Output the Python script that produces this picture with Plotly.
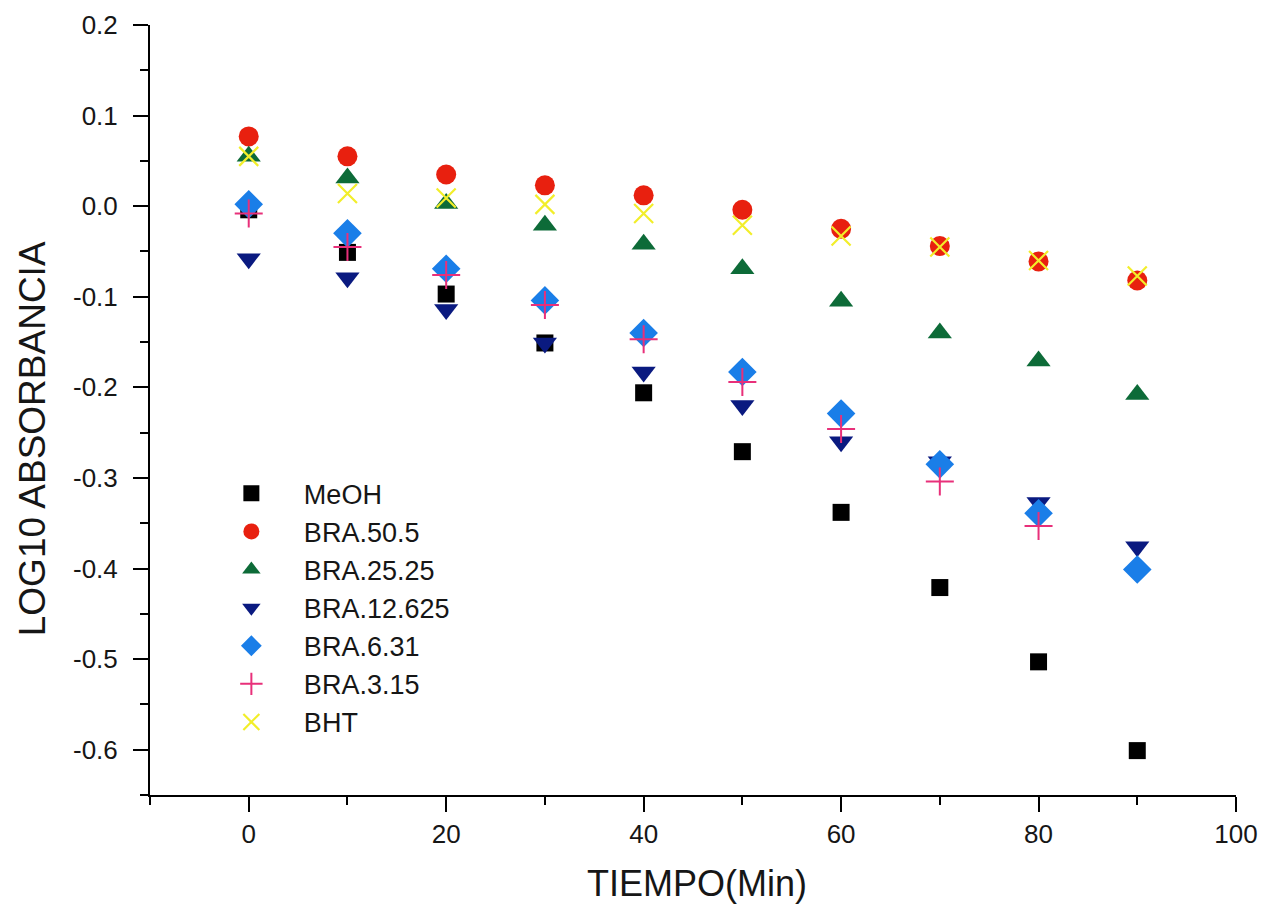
import plotly.graph_objects as go

tiempo = [0, 10, 20, 30, 40, 50, 60, 70, 80, 90]
meoh = [-0.004, -0.051, -0.097, -0.151, -0.206, -0.271, -0.338, -0.421, -0.503, -0.601]
bra_50_5 = [0.077, 0.055, 0.035, 0.023, 0.012, -0.004, -0.025, -0.044, -0.061, -0.082]
bra_25_25 = [0.055, 0.031, 0.003, -0.021, -0.042, -0.069, -0.105, -0.140, -0.171, -0.208]
bra_12_625 = [-0.058, -0.079, -0.114, -0.151, -0.183, -0.220, -0.260, -0.282, -0.327, -0.376]
bra_6_31 = [0.002, -0.030, -0.069, -0.104, -0.140, -0.183, -0.229, -0.285, -0.339, -0.401]
bra_3_15 = [-0.008, -0.045, -0.076, -0.109, -0.147, -0.194, -0.246, -0.304, -0.353, None]
bht = [0.055, 0.014, 0.009, 0.002, -0.008, -0.021, -0.033, -0.045, -0.060, -0.077]

series_names = ["MeOH", "BRA.50.5", "BRA.25.25", "BRA.12.625", "BRA.6.31", "BRA.3.15", "BHT"]
series_vals = [meoh, bra_50_5, bra_25_25, bra_12_625, bra_6_31, bra_3_15, bht]

x_ticks = [0, 20, 40, 60, 80, 100]
y_ticks = [0.2, 0.1, 0.0, -0.1, -0.2, -0.3, -0.4, -0.5, -0.6]
y_ticktext = ["0.2", "0.1", "0.0", "-0.1", "-0.2", "-0.3", "-0.4", "-0.5", "-0.6"]

styles = [
    dict(symbol="square", size=17, color="#000000"),
    dict(symbol="circle", size=20, color="#e8200f"),
    dict(symbol="triangle-up", size=21, color="#0d6b38"),
    dict(symbol="triangle-down", size=21, color="#0a1a80"),
    dict(symbol="diamond", size=22, color="#1a7ee8"),
    dict(symbol="cross-thin", size=20, color="#e8307a", line=dict(width=2, color="#e8307a")),
    dict(symbol="x-thin", size=19, color="#f2ee2a", line=dict(width=2.2, color="#f2ee2a")),
]

FONT = "Liberation Sans, Arial, sans-serif"
TXT = "#161616"

fig = go.Figure()
for i, (name, vals, st) in enumerate(zip(series_names, series_vals, styles)):
    marker = dict(symbol=st["symbol"], size=st["size"], color=st["color"])
    if "line" in st:
        marker["line"] = st["line"]
    else:
        marker["line"] = dict(width=0)
    fig.add_trace(go.Scatter(x=tiempo, y=vals, mode="markers", name=name,
                             marker=marker))

fig.update_layout(
    width=1268, height=913,
    margin=dict(l=142, r=40, t=17, b=126, autoexpand=False),
    plot_bgcolor="white", paper_bgcolor="white",
    font=dict(family=FONT, color=TXT, size=26),
    showlegend=True,
    legend=dict(x=0.045, y=0.423, xanchor="left", yanchor="top",
                font=dict(size=27, family=FONT, color=TXT), itemwidth=95,
                tracegroupgap=0, bgcolor="rgba(0,0,0,0)"),
    xaxis=dict(range=[-10, 100], tickvals=x_ticks, ticks="outside", ticklen=15,
               tickwidth=2, tickcolor="black", showline=True, linecolor="black",
               linewidth=2, showgrid=False, zeroline=False, automargin=False,
               tickfont=dict(size=26, family=FONT, color=TXT),
               minor=dict(dtick=10, tick0=0, ticks="outside", ticklen=8,
                          tickwidth=2, tickcolor="black", showgrid=False)),
    yaxis=dict(range=[-0.65, 0.2], tickvals=y_ticks, ticktext=y_ticktext,
               ticks="outside", ticklen=15, tickwidth=2, tickcolor="black",
               ticklabelstandoff=10, automargin=False,
               showline=True, linecolor="black", linewidth=2, showgrid=False,
               zeroline=False, tickfont=dict(size=26, family=FONT, color=TXT),
               minor=dict(dtick=0.05, tick0=0, ticks="outside", ticklen=8,
                          tickwidth=2, tickcolor="black", showgrid=False)),
    annotations=[
        dict(text="TIEMPO(Min)", xref="paper", yref="paper", x=0.504, y=0,
             xanchor="center", yanchor="middle", yshift=-88, showarrow=False,
             font=dict(size=36, family=FONT, color=TXT)),
        dict(text="LOG10 ABSORBANCIA", xref="paper", yref="paper", x=0, y=0.462,
             xanchor="center", yanchor="middle", xshift=-118, textangle=-90,
             showarrow=False, font=dict(size=37, family=FONT, color=TXT)),
    ],
)

fig.write_html("out.html")
